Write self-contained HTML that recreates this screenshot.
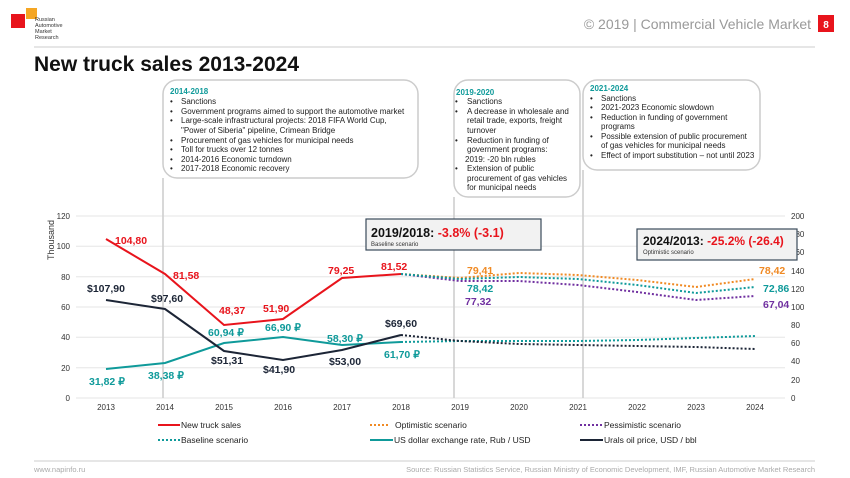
<!DOCTYPE html>
<html><head><meta charset="utf-8"><style>
body{margin:0;background:#fff;}
svg{display:block;font-family:"Liberation Sans",Arial,sans-serif;}
</style></head><body>
<svg width="850" height="478" viewBox="0 0 850 478" xmlns="http://www.w3.org/2000/svg">
<!-- header -->
<rect x="11" y="14" width="14" height="14" fill="#e8141c"/>
<rect x="26" y="8" width="11" height="11" fill="#f5a623"/>
<text x="35" y="21" font-size="5.5" fill="#333">Russian</text>
<text x="35" y="27" font-size="5.5" fill="#333">Automotive</text>
<text x="35" y="33" font-size="5.5" fill="#333">Market</text>
<text x="35" y="39" font-size="5.5" fill="#333">Research</text>
<text x="811" y="29" font-size="14" fill="#999" text-anchor="end">© 2019  | Commercial Vehicle Market</text>
<rect x="818" y="15" width="16" height="17" fill="#e8141c"/>
<text x="826" y="28" font-size="10" fill="#fff" font-weight="bold" text-anchor="middle">8</text>
<line x1="34" y1="47" x2="815" y2="47" stroke="#ccc" stroke-width="1"/>
<text x="34" y="71" font-size="21" font-weight="bold" fill="#111">New truck sales 2013-2024</text>

<!-- text boxes -->
<rect x="163" y="80" width="255" height="98" rx="14" fill="none" stroke="#ccc" stroke-width="1.5"/>
<g font-size="8" fill="#222">
<text x="170" y="94" fill="#0f9a9a" font-weight="bold">2014-2018</text>
<text x="170" y="104">•</text><text x="181" y="104">Sanctions</text>
<text x="170" y="114">•</text><text x="181" y="114">Government programs aimed to support the automotive market</text>
<text x="170" y="123">•</text><text x="181" y="123">Large-scale infrastructural projects: 2018 FIFA World Cup,</text>
<text x="181" y="133">"Power of Siberia" pipeline,  Crimean Bridge</text>
<text x="170" y="143">•</text><text x="181" y="143">Procurement of gas vehicles for municipal needs</text>
<text x="170" y="152">•</text><text x="181" y="152">Toll for trucks over 12 tonnes</text>
<text x="170" y="162">•</text><text x="181" y="162">2014-2016 Economic turndown</text>
<text x="170" y="171">•</text><text x="181" y="171">2017-2018 Economic recovery</text>
</g>
<rect x="454" y="80" width="126" height="117" rx="14" fill="none" stroke="#ccc" stroke-width="1.5"/>
<g font-size="8" fill="#222">
<text x="456" y="95" fill="#0f9a9a" font-weight="bold">2019-2020</text>
<text x="455" y="104">•</text><text x="467" y="104">Sanctions</text>
<text x="455" y="114">•</text><text x="467" y="114">A decrease in wholesale and</text>
<text x="467" y="123">retail trade, exports, freight</text>
<text x="467" y="133">turnover</text>
<text x="455" y="143">•</text><text x="467" y="143">Reduction in funding of</text>
<text x="467" y="152">government programs:</text>
<text x="465" y="162">2019:  -20 bln rubles</text>
<text x="455" y="171">•</text><text x="467" y="171">Extension of public</text>
<text x="467" y="181">procurement of gas vehicles</text>
<text x="467" y="190">for municipal needs</text>
</g>
<rect x="583" y="80" width="177" height="90" rx="14" fill="none" stroke="#ccc" stroke-width="1.5"/>
<g font-size="8" fill="#222">
<text x="590" y="91" fill="#0f9a9a" font-weight="bold">2021-2024</text>
<text x="590" y="101">•</text><text x="601" y="101">Sanctions</text>
<text x="590" y="110">•</text><text x="601" y="110">2021-2023 Economic slowdown</text>
<text x="590" y="120">•</text><text x="601" y="120">Reduction in funding of government</text>
<text x="601" y="129">programs</text>
<text x="590" y="139">•</text><text x="601" y="139">Possible extension of public procurement</text>
<text x="601" y="148">of gas vehicles for municipal needs</text>
<text x="590" y="158">•</text><text x="601" y="158">Effect of import substitution – not until 2023</text>
</g>

<!-- grid -->
<g stroke="#e6e6e6" stroke-width="1">
<line x1="76" y1="216" x2="785" y2="216"/><line x1="76" y1="246.3" x2="785" y2="246.3"/>
<line x1="76" y1="276.7" x2="785" y2="276.7"/><line x1="76" y1="307" x2="785" y2="307"/>
<line x1="76" y1="337.3" x2="785" y2="337.3"/><line x1="76" y1="367.7" x2="785" y2="367.7"/>
<line x1="76" y1="398" x2="785" y2="398"/>
</g>
<g stroke="#ccc" stroke-width="1.5">
<line x1="163" y1="178" x2="163" y2="398"/>
<line x1="454" y1="197" x2="454" y2="398"/>
<line x1="583" y1="170" x2="583" y2="398"/>
</g>
<!-- axis labels -->
<g font-size="8" fill="#333" text-anchor="end">
<text x="70" y="219">120</text><text x="70" y="249">100</text><text x="70" y="280">80</text>
<text x="70" y="310">60</text><text x="70" y="340">40</text><text x="70" y="371">20</text><text x="70" y="401">0</text>
</g>
<g font-size="8" fill="#333">
<text x="791" y="219">200</text><text x="791" y="237">180</text><text x="791" y="255">160</text>
<text x="791" y="274">140</text><text x="791" y="292">120</text><text x="791" y="310">100</text>
<text x="791" y="328">80</text><text x="791" y="346">60</text><text x="791" y="364">40</text>
<text x="791" y="383">20</text><text x="791" y="401">0</text>
</g>
<text transform="translate(54,240) rotate(-90)" font-size="9" fill="#333" text-anchor="middle">Thousand</text>
<g font-size="8" fill="#333" text-anchor="middle">
<text x="106" y="410">2013</text><text x="165" y="410">2014</text><text x="224" y="410">2015</text>
<text x="283" y="410">2016</text><text x="342" y="410">2017</text><text x="401" y="410">2018</text>
<text x="460" y="410">2019</text><text x="519" y="410">2020</text><text x="578" y="410">2021</text>
<text x="637" y="410">2022</text><text x="696" y="410">2023</text><text x="755" y="410">2024</text>
</g>

<!-- forecasts -->
<g fill="none" stroke-width="2" stroke-dasharray="2 2">
<polyline stroke="#f08a24" points="401,274 460,278 519,273 578,275 637,280 696,287 755,279"/>
<polyline stroke="#7030a0" points="401,274 460,281 519,281 578,285 637,292 696,300 755,296"/>
<polyline stroke="#0f9a9a" points="401,274 460,279 519,277 578,279 637,285 696,293 755,287"/>
<polyline stroke="#0f9a9a" points="401,342 460,341 519,341 578,341 637,340 696,338 755,336"/>
<polyline stroke="#1c2536" points="401,335 460,341 519,344 578,345 637,346 696,347 755,349"/>
</g>
<!-- actuals -->
<polyline fill="none" stroke="#0f9a9a" stroke-width="2" points="106,369 165,363 224,343 283,337 342,345 401,342"/>
<polyline fill="none" stroke="#1c2536" stroke-width="2" points="106,300 165,309 224,351 283,360 342,350 401,335"/>
<polyline fill="none" stroke="#e8141c" stroke-width="2" points="106,239 165,274 224,325 283,319 342,278 401,274"/>

<!-- data labels -->
<g font-size="10.5" font-weight="bold">
<g fill="#e8141c">
<text x="115" y="244">104,80</text><text x="173" y="279">81,58</text><text x="219" y="314">48,37</text>
<text x="263" y="312">51,90</text><text x="328" y="274">79,25</text><text x="381" y="270">81,52</text>
</g>
<g fill="#1c2536">
<text x="87" y="292">$107,90</text><text x="151" y="302">$97,60</text><text x="211" y="364">$51,31</text>
<text x="263" y="373">$41,90</text><text x="329" y="365">$53,00</text><text x="385" y="327">$69,60</text>
</g>
<g fill="#0f9a9a">
<text x="89" y="385">31,82 ₽</text><text x="148" y="379">38,38 ₽</text><text x="208" y="336">60,94 ₽</text>
<text x="265" y="331">66,90 ₽</text><text x="327" y="342">58,30 ₽</text><text x="384" y="358">61,70 ₽</text>
</g>
<text x="467" y="274" fill="#f08a24">79,41</text>
<text x="467" y="292" fill="#0f9a9a">78,42</text>
<text x="465" y="305" fill="#7030a0">77,32</text>
<text x="759" y="274" fill="#f08a24">78,42</text>
<text x="763" y="292" fill="#0f9a9a">72,86</text>
<text x="763" y="308" fill="#7030a0">67,04</text>
</g>

<!-- annotation boxes -->
<rect x="366" y="219" width="175" height="31" fill="#f2f2f2" stroke="#3a4a5a" stroke-width="1.2"/>
<text x="371" y="237" font-size="12.5" font-weight="bold" fill="#111">2019/2018: <tspan fill="#e8141c">-3.8% (-3.1)</tspan></text>
<text x="371" y="246" font-size="6" fill="#333">Baseline scenario</text>
<rect x="637" y="229" width="160" height="31" fill="#f2f2f2" stroke="#3a4a5a" stroke-width="1.2"/>
<text x="643" y="245" font-size="12" font-weight="bold" fill="#111">2024/2013: <tspan fill="#e8141c">-25.2% (-26.4)</tspan></text>
<text x="643" y="254" font-size="6" fill="#333">Optimistic scenario</text>

<!-- legend -->
<g font-size="8.5" fill="#222">
<line x1="158" y1="425" x2="180" y2="425" stroke="#e8141c" stroke-width="2"/><text x="181" y="428">New truck sales</text>
<line x1="158" y1="440" x2="180" y2="440" stroke="#0f9a9a" stroke-width="2" stroke-dasharray="2 2"/><text x="181" y="443">Baseline scenario</text>
<line x1="370" y1="425" x2="389" y2="425" stroke="#f08a24" stroke-width="2" stroke-dasharray="2 2"/><text x="395" y="428">Optimistic scenario</text>
<line x1="370" y1="440" x2="393" y2="440" stroke="#0f9a9a" stroke-width="2"/><text x="394" y="443">US dollar exchange rate, Rub / USD</text>
<line x1="580" y1="425" x2="603" y2="425" stroke="#7030a0" stroke-width="2" stroke-dasharray="2 2"/><text x="604" y="428">Pessimistic scenario</text>
<line x1="580" y1="440" x2="603" y2="440" stroke="#1c2536" stroke-width="2"/><text x="604" y="443">Urals oil price, USD / bbl</text>
</g>

<!-- footer -->
<line x1="34" y1="461" x2="815" y2="461" stroke="#ccc" stroke-width="1"/>
<text x="34" y="472" font-size="7.5" fill="#aaa">www.napinfo.ru</text>
<text x="815" y="472" font-size="7.5" fill="#aaa" text-anchor="end">Source: Russian Statistics Service, Russian Ministry of Economic Development, IMF, Russian Automotive Market Research</text>
</svg>
</body></html>
